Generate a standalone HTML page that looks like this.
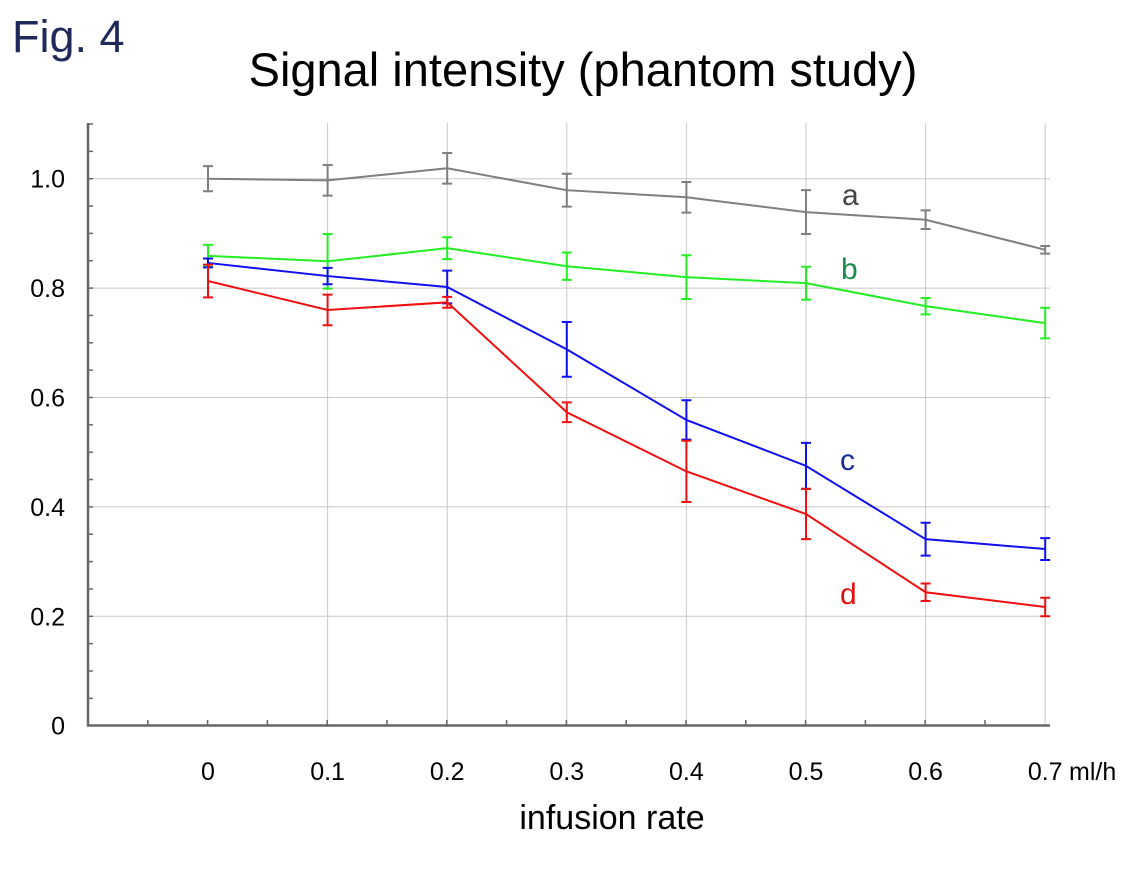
<!DOCTYPE html>
<html><head><meta charset="utf-8"><style>
body{margin:0;background:#fff;width:1134px;height:865px;overflow:hidden;font-family:"Liberation Sans",Arial,sans-serif}
</style></head><body>
<svg id="c" width="1134" height="865" xmlns="http://www.w3.org/2000/svg" font-family="Liberation Sans, Arial, sans-serif">
<text x="12" y="52" font-size="45" fill="#1f2a5a">Fig. 4</text>
<text x="583" y="86" font-size="47" text-anchor="middle" fill="#000">Signal intensity (phantom study)</text>
<text x="612" y="829" font-size="34" text-anchor="middle" fill="#000">infusion rate</text>
<g id="grid"></g><g id="axes"></g><g id="series"></g>
<text x="842" y="205" font-size="30" fill="#444">a</text>
<text x="841" y="279" font-size="30" fill="#1a8a4a">b</text>
<text x="840" y="470" font-size="30" fill="#1a2a9a">c</text>
<text x="840" y="604" font-size="30" fill="#e01010">d</text>
</svg>
<script>
const categories=["0","0.1","0.2","0.3","0.4","0.5","0.6","0.7"];
const yTicks=[0,0.2,0.4,0.6,0.8,1.0];
const yTickLabels=["0","0.2","0.4","0.6","0.8","1.0"];
const aVals=[1.0,0.997,1.019,0.979,0.966,0.939,0.925,0.870];
const aErr=[0.023,0.028,0.028,0.03,0.028,0.04,0.017,0.007];
const bVals=[0.859,0.849,0.873,0.840,0.820,0.809,0.767,0.736];
const bErr=[0.02,0.05,0.02,0.025,0.04,0.03,0.015,0.028];
const cVals=[0.846,0.822,0.802,0.688,0.559,0.475,0.341,0.323];
const cErr=[0.008,0.015,0.03,0.05,0.036,0.042,0.03,0.02];
const dVals=[0.813,0.760,0.774,0.573,0.465,0.387,0.244,0.217];
const dErr=[0.03,0.028,0.01,0.018,0.056,0.046,0.016,0.017];
const NS="http://www.w3.org/2000/svg";
const xs=i=>208+i*119.6;
const ys=v=>725.7-v*547;
function mk(t,p,a){const e=document.createElementNS(NS,t);for(const k in a)e.setAttribute(k,a[k]);p.appendChild(e);return e;}
const grid=document.getElementById('grid'),axes=document.getElementById('axes'),ser=document.getElementById('series');
yTicks.forEach((v,i)=>{
 if(v>0){const l=mk('line',grid,{x1:88,x2:1050,y1:ys(v),y2:ys(v),stroke:'#c8c8c8','stroke-width':1});
 
 }
 const t=mk('text',axes,{x:65,y:ys(v)+9,'font-size':25,'text-anchor':'end',fill:'#000'});
 
 
 t.textContent=yTickLabels[i];
});
categories.forEach((c,i)=>{
 if(i>0){const l=mk('line',grid,{x1:xs(i),x2:xs(i),y1:123,y2:725,stroke:'#c8c8c8','stroke-width':1});
 
 }
 const t=mk('text',axes,{x:xs(i),y:780,'font-size':25,'text-anchor':'middle',fill:'#000'});
 
 
 t.textContent=c;
});
const u=mk('text',axes,{x:1069,y:780,'font-size':25,fill:'#000'});


u.textContent='ml/h';
const ax=mk('path',axes,{d:'M88 123 V725.5 H1050',fill:'none',stroke:'#666','stroke-width':2.5});


for(let v=0.05;v<1.12;v+=0.05){mk('line',axes,{x1:88,x2:93,y1:ys(v),y2:ys(v),stroke:'#666','stroke-width':1.5});}
for(let k=1;k<16;k++){const x=88+k*59.8;mk('line',axes,{x1:x,x2:x,y1:725,y2:720,stroke:'#666','stroke-width':1.5});}
function draw(vals,err,col,name){
 const g=mk('g',ser,{});
 
 
 const p=mk('polyline',g,{points:vals.map((v,i)=>xs(i)+','+ys(v)).join(' '),fill:'none',stroke:col,'stroke-width':2});
 
 
 vals.forEach((v,i)=>{
  const x=xs(i),y1=ys(v+err[i]),y2=ys(v-err[i]);
  const e=mk('path',g,{d:`M${x} ${y1}V${y2}M${x-5} ${y1}H${x+5}M${x-5} ${y2}H${x+5}`,stroke:col,'stroke-width':2,fill:'none'});
  
  
 });
}
draw(aVals,aErr,'#7f7f7f','a');
draw(bVals,bErr,'#22ee22','b');
draw(cVals,cErr,'#1010ee','c');
draw(dVals,dErr,'#ee1010','d');
</script>
</body></html>
